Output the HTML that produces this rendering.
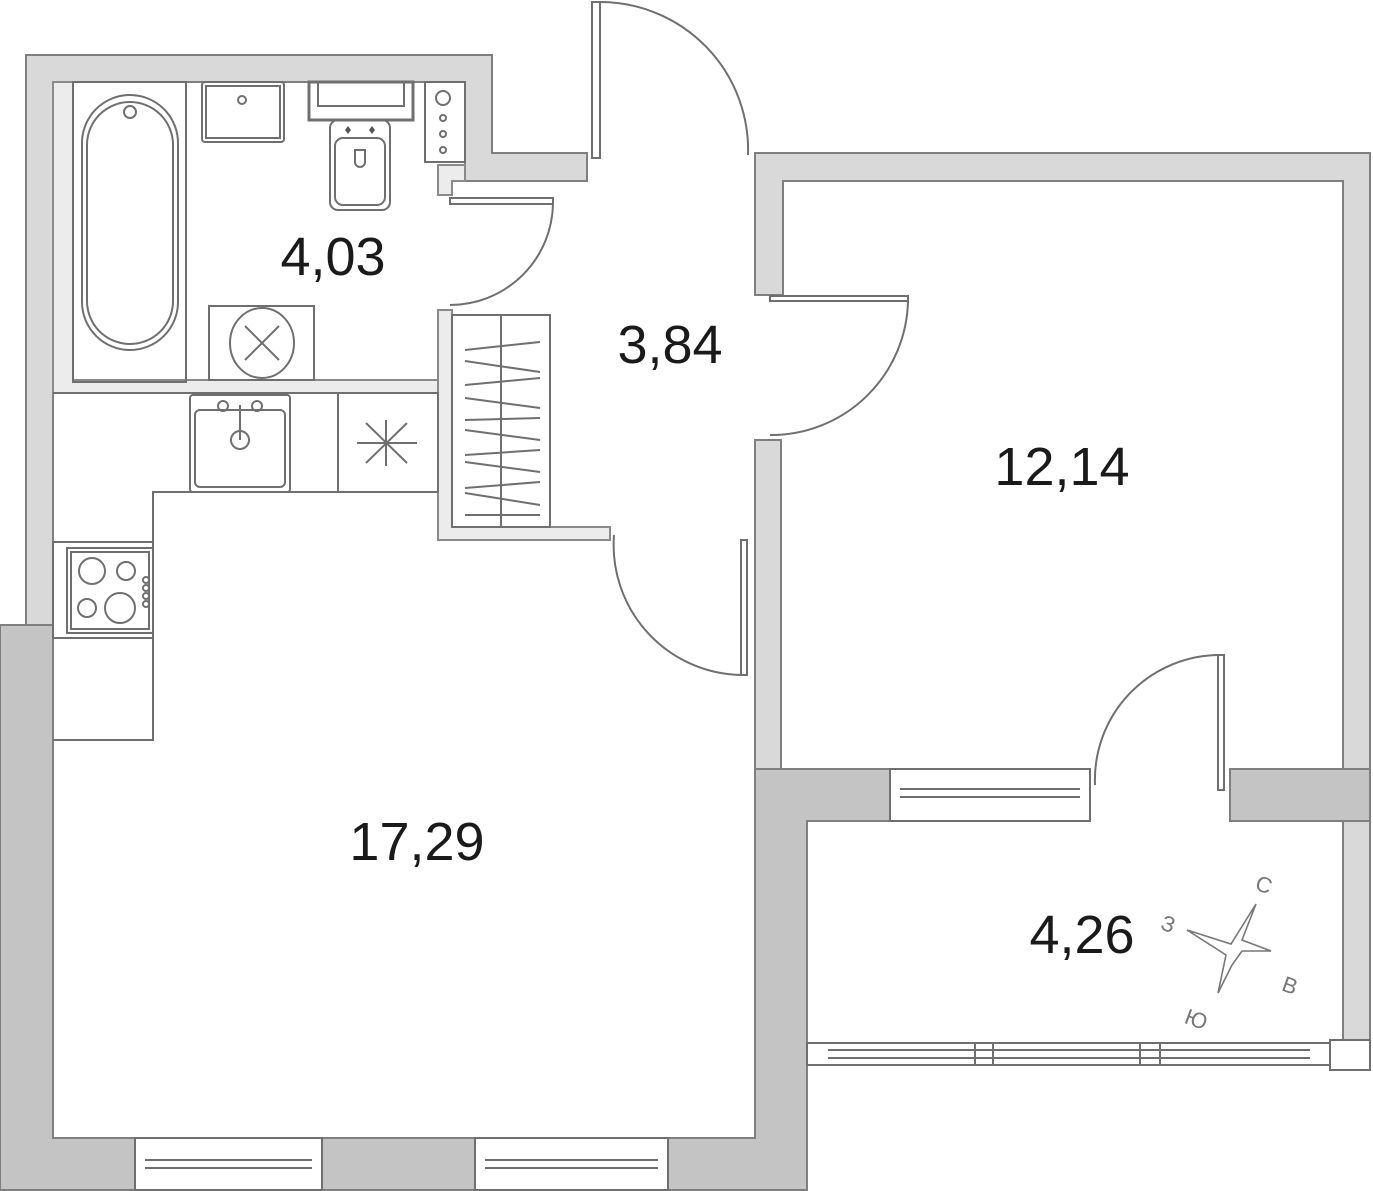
<!DOCTYPE html>
<html><head><meta charset="utf-8"><style>
html,body{margin:0;padding:0;background:#fff;width:1373px;height:1191px;overflow:hidden}
svg{display:block}
.lw{fill:#d9d9d9;stroke:#7f7f7f;stroke-width:2}
.dw{fill:#c4c4c4;stroke:#7f7f7f;stroke-width:2}
.ln{fill:none;stroke:#6f6f6f;stroke-width:2}
.wf{fill:#fff;stroke:#6f6f6f;stroke-width:2}
.lf{fill:#ececec;stroke:#8a8a8a;stroke-width:2}
text{font-family:"Liberation Sans",sans-serif;fill:#1a1a1a}
</style></head><body>
<svg width="1373" height="1191" viewBox="0 0 1373 1191">
<path class="lw" d="M26,55 H492 V153 H587 V181 H465 V82 H53 V625 H26 Z"/>
<path class="lf" d="M53,82 H73 V380 H438 V393 H53 Z"/>
<path class="lf" d="M438,310 H452 V527 H610 V540 H438 Z"/>
<path class="lf" d="M438,165 H465 V181 H452 V195 H438 Z"/>
<path class="lw" d="M755,153 H1370 V770 H1343 V181 H783 V295 H755 Z"/>
<rect class="lw" x="755" y="440" width="26" height="330"/>
<rect class="lw" x="1343" y="821" width="27" height="220"/>
<path class="dw" d="M0,625 H53 V1138 H135 V1190 H0 Z"/>
<rect class="dw" x="322" y="1138" width="153" height="52"/>
<path class="dw" d="M668,1138 H755 V769 H890 V821 H807 V1190 H668 Z"/>
<rect class="dw" x="1230" y="769" width="140" height="52"/>
<g class="wf">
<rect x="135" y="1138" width="187" height="52"/><line x1="145" y1="1160" x2="312" y2="1160"/><line x1="145" y1="1168" x2="312" y2="1168"/>
<rect x="475" y="1138" width="193" height="52"/><line x1="485" y1="1160" x2="658" y2="1160"/><line x1="485" y1="1168" x2="658" y2="1168"/>
<rect x="890" y="769" width="200" height="52"/><line x1="900" y1="789" x2="1080" y2="789"/><line x1="900" y1="797" x2="1080" y2="797"/>
<rect x="807" y="1043" width="523" height="22"/><line x1="828" y1="1050" x2="1310" y2="1050"/><line x1="828" y1="1058" x2="1310" y2="1058"/>
<line x1="975" y1="1043" x2="975" y2="1065"/><line x1="993" y1="1043" x2="993" y2="1065"/>
<line x1="1140" y1="1043" x2="1140" y2="1065"/><line x1="1160" y1="1043" x2="1160" y2="1065"/>
<rect x="1330" y="1040" width="40" height="30"/>
</g>
<g class="ln">
<rect x="592" y="2" width="8" height="156" fill="#fff"/>
<path d="M600,2 A148,148 0 0 1 748,155"/>
<rect x="450" y="198" width="103" height="6" fill="#fff"/>
<path d="M553,204 A103,103 0 0 1 450,305"/>
<rect x="770" y="296" width="138" height="5" fill="#fff"/>
<path d="M908,301 A137,137 0 0 1 770,435"/>
<rect x="741" y="540" width="6" height="135" fill="#fff"/>
<path d="M744,675 A130,130 0 0 1 614,535"/>
<rect x="1218" y="655" width="6" height="135" fill="#fff"/>
<path d="M1220,655 A125,125 0 0 0 1095,785"/>
</g>
<g class="ln">
<rect x="73" y="82" width="113" height="300"/>
<rect x="82" y="95" width="96" height="255" rx="48"/>
<rect x="87" y="102" width="86" height="242" rx="43"/>
<circle cx="130" cy="112" r="6"/>
<rect x="202" y="82" width="82" height="60" rx="3"/>
<rect x="206" y="86" width="74" height="52"/>
<circle cx="242" cy="100" r="4"/>
<rect x="309" y="82" width="104" height="38" stroke-width="3"/>
<rect x="318" y="82" width="86" height="24"/>
<rect x="330" y="120" width="60" height="90" rx="8"/>
<rect x="335" y="138" width="50" height="67" rx="8"/>
<path d="M355,150 v12 a5,5 0 0 0 10,0 v-12 z"/>
<rect x="425" y="82" width="40" height="80"/>
<circle cx="443" cy="98" r="7"/><circle cx="443" cy="118" r="3"/><circle cx="443" cy="134" r="3"/><circle cx="443" cy="150" r="3"/>
<rect x="209" y="306" width="105" height="74"/>
<ellipse cx="262" cy="343" rx="32" ry="35"/>
<line x1="245" y1="326" x2="279" y2="360"/><line x1="279" y1="326" x2="245" y2="360"/>
</g>
<g fill="#555"><path d="M348,126 l3,4 -3,4 -3,-4z"/><path d="M372,126 l3,4 -3,4 -3,-4z"/></g>
<g class="ln">
<path d="M53,393 H438 V492 H153 V740 H53"/>
<rect x="190" y="395" width="100" height="97" rx="3"/>
<rect x="195" y="410" width="90" height="77" rx="5"/>
<circle cx="223" cy="406" r="5"/><circle cx="257" cy="406" r="5"/>
<line x1="240" y1="405" x2="240" y2="440"/><circle cx="240" cy="440" r="9"/>
<line x1="338" y1="393" x2="338" y2="492"/>
<line x1="386" y1="420" x2="386" y2="466"/><line x1="357" y1="443" x2="417" y2="443"/>
<line x1="366" y1="423" x2="407" y2="463"/><line x1="407" y1="423" x2="366" y2="463"/>
<rect x="53" y="542" width="100" height="96"/>
<rect x="67" y="548" width="86" height="85"/>
<rect x="71" y="552" width="78" height="77"/>
<circle cx="92" cy="571" r="13"/><circle cx="126" cy="571" r="9"/>
<circle cx="87" cy="608" r="9"/><circle cx="120" cy="608" r="15"/>
<circle cx="146" cy="580" r="3"/><circle cx="146" cy="588" r="3"/><circle cx="146" cy="596" r="3"/><circle cx="146" cy="604" r="3"/>
</g>
<g class="ln" stroke-width="1.6">
<rect x="452" y="315" width="98" height="212"/>
<line x1="501" y1="315" x2="501" y2="527"/>
<path d="M465,350 L540,342 M465,361 L540,372 M465,385 L540,378 M465,398 L540,408 M465,420 L540,418 M465,430 L540,440 M465,455 L540,450 M465,462 L540,472 M465,488 L540,482 M465,493 L540,505 M465,515 L540,515"/>
</g>
<g fill="none" stroke="#777" stroke-width="1.6">
<path d="M1256,904 L1242,940 L1271,951 L1242,951 L1232,965 L1218,993 L1226,955 L1187,930 L1231,944 Z"/>
</g>
<g font-size="22">
<text x="1256" y="893" style="fill:#777" transform="rotate(20 1266 885)">С</text>
<text x="1162" y="932" style="fill:#777" transform="rotate(20 1170 923)">З</text>
<text x="1283" y="994" style="fill:#777" transform="rotate(20 1293 985)">В</text>
<text x="1186" y="1027" style="fill:#777" transform="rotate(20 1197 1017)">Ю</text>
</g>
<g font-size="54">
<text x="333" y="275" text-anchor="middle">4,03</text>
<text x="670" y="363" text-anchor="middle">3,84</text>
<text x="1062" y="485" text-anchor="middle">12,14</text>
<text x="417" y="860" text-anchor="middle">17,29</text>
<text x="1082" y="953" text-anchor="middle">4,26</text>
</g>
</svg>
</body></html>
